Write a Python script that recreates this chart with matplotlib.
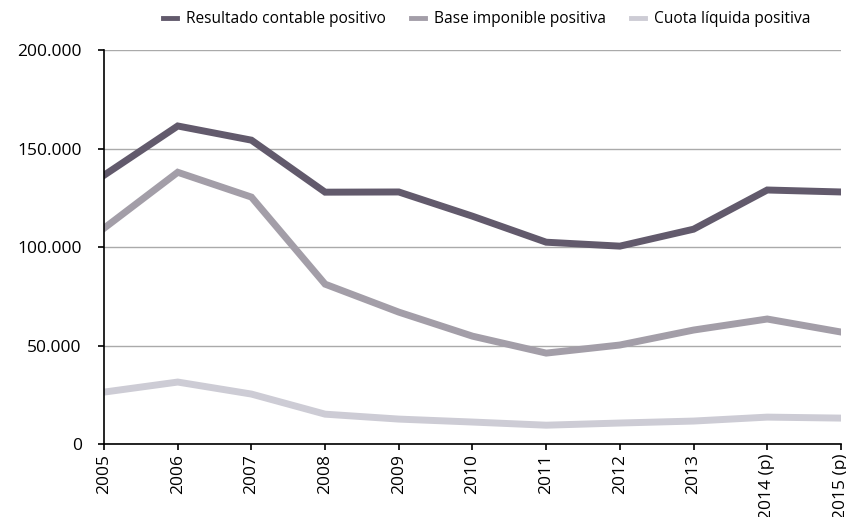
import numpy as np
import matplotlib
matplotlib.use("Agg")
from matplotlib import pyplot as plt

plt.rcParams['font.family'] = ['Open Sans', 'DejaVu Sans']

years = ['2005', '2006', '2007', '2008', '2009', '2010', '2011', '2012',
         '2013', '2014 (p)', '2015 (p)']
resultado = [136500, 161500, 154300, 127900, 128000, 115700, 102500,
             100500, 109100, 129000, 128000]
base = [109600, 138000, 125400, 81200, 67000, 54800, 46200, 50300,
        57900, 63500, 56900]
cuota = [26400, 31500, 25400, 15200, 12700, 11200, 9600, 10700,
         11700, 13700, 13200]

series = [('Resultado contable positivo', resultado, '#625a6c'),
          ('Base imponible positiva', base, '#a39ea8'),
          ('Cuota líquida positiva', cuota, '#cdccd5')]

fig = plt.figure(figsize=(8.46, 5.17), dpi=100)
ax = fig.add_axes([0.123, 0.141, 0.871, 0.762])

x = np.arange(len(years))
for name, vals, col in series:
    ax.plot(x, vals, color=col, lw=5, label=name, solid_joinstyle='miter')

ax.set_xlim(0, len(years) - 1)
ax.set_ylim(0, 200000)
ax.set_yticks([0, 50000, 100000, 150000, 200000])
ax.set_yticklabels(['0', '50.000', '100.000', '150.000', '200.000'])
ax.set_xticks(x)
ax.set_xticklabels(years, rotation=90)
ax.tick_params(axis='both', labelsize=12.5, length=4, width=1.2, color='black')
ax.tick_params(axis='y', pad=12)
ax.tick_params(axis='x', pad=3)
ax.yaxis.grid(True, color='#aaaaaa', lw=1)
ax.set_axisbelow(True)
for s in ['top', 'right']:
    ax.spines[s].set_visible(False)
for s in ['left', 'bottom']:
    ax.spines[s].set_color('black')
    ax.spines[s].set_linewidth(1.2)

leg = fig.legend(loc='upper right', bbox_to_anchor=(0.975, 1.005), ncol=3,
                 frameon=False, fontsize=11.2, handlelength=0.9,
                 handletextpad=0.6, columnspacing=1.6)
for h in leg.get_lines():
    h.set_linewidth(3.5)

fig.savefig('out.png', dpi=100)
